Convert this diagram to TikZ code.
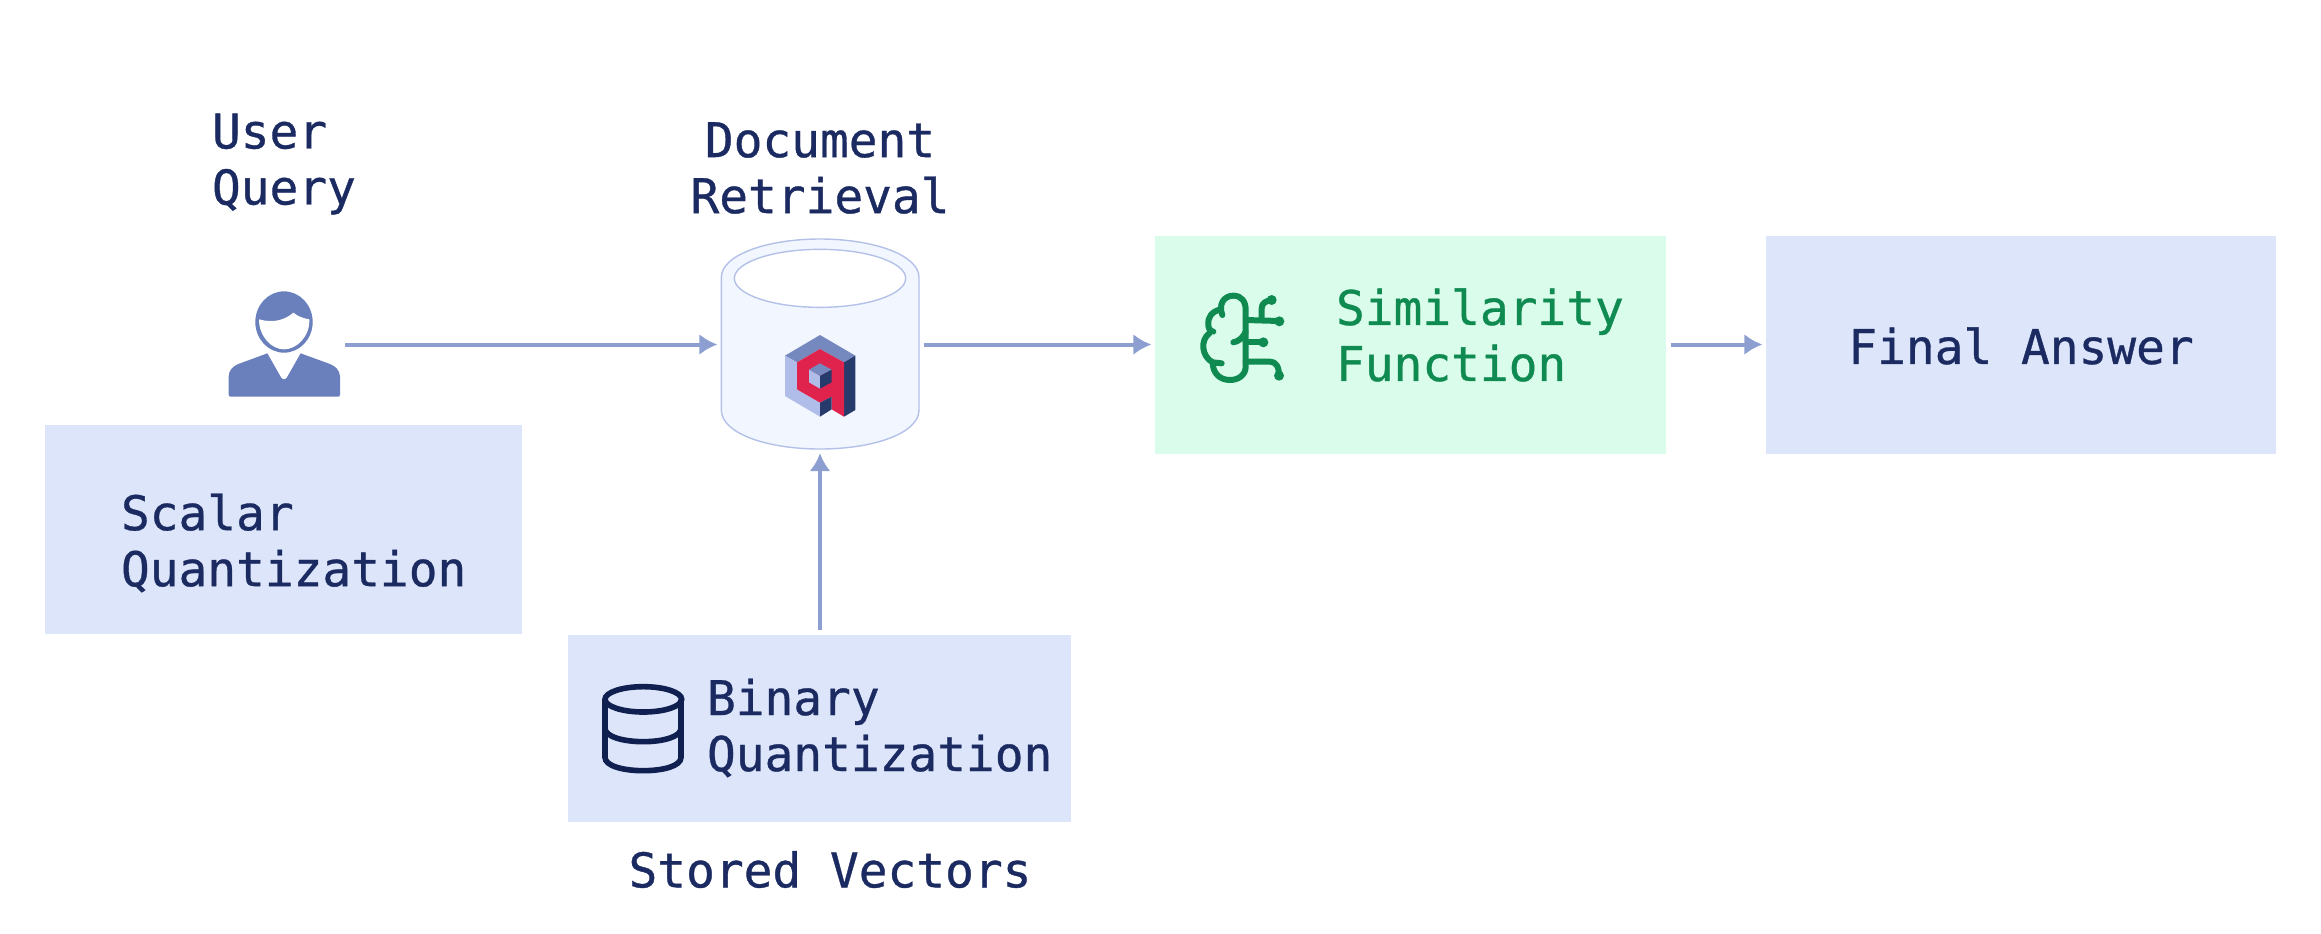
\documentclass[tikz,border=0pt]{standalone}
\usepackage{xcolor}
\usepackage{fontspec}
\setmonofont[FakeBold=0.7]{DejaVu Sans Mono}
\usetikzlibrary{arrows.meta}
\definecolor{navytxt}{HTML}{1B2B62}
\definecolor{boxblue}{HTML}{DCE5F9}
\definecolor{boxgreen}{HTML}{DAFCEB}
\definecolor{greentxt}{HTML}{0F8A50}
\definecolor{arrowblue}{HTML}{8C9FD0}
\definecolor{usercol}{HTML}{6A80BD}
\definecolor{cylfill}{HTML}{F1F6FF}
\definecolor{cylline}{HTML}{B3C1E8}
\definecolor{logotop}{HTML}{7589BE}
\definecolor{logoleft}{HTML}{B0BDE8}
\definecolor{logodark}{HTML}{263A6B}
\definecolor{logored}{HTML}{E0234D}
\definecolor{dbcol}{HTML}{0F1F50}
\begin{document}
\begin{tikzpicture}[x=0.5pt,y=-0.5pt]
        \tikzset{fleche/.style={-{Latex[length=9pt,width=10.5pt]},draw=arrowblue,line width=2pt,shorten <=2.5pt,shorten >=1.8pt}}
        \tikzset{qbox/.style={fill=boxblue,inner sep=0pt,outer sep=0pt}}
        \tikzset{greenbox/.style={fill=boxgreen,inner sep=0pt,outer sep=0pt}}
        \tikzset{blank/.style={inner sep=0pt,outer sep=0pt}}
        \tikzset{lab/.style={font=\ttfamily\fontsize{23.9}{28}\selectfont,text=navytxt,inner sep=0pt,outer sep=0pt,align=left}}
        \useasboundingbox (0,0) rectangle (2321,933);
        % boxes
        \node[qbox,minimum width=238.5pt,minimum height=104.5pt] (scalar) at (283.5,529.5) {};
        \node[qbox,minimum width=251.5pt,minimum height=93.5pt] (binary) at (819.5,728.5) {};
        \node[greenbox,minimum width=255.5pt,minimum height=109pt] (simil) at (1410.5,344.5) {};
        \node[qbox,minimum width=255pt,minimum height=109pt] (final) at (2021,344.5) {};
        \node[blank,minimum width=55.5pt,minimum height=52pt] (usericon) at (284.5,344.5) {};
        \node[blank,minimum width=99pt,minimum height=105pt] (docstore) at (820,344.5) {};
        % labels
        \node[lab,anchor=west] (userlab) at (212,164) {User\\Query};
        \node[lab,anchor=center,align=center] (doclab) at (820,168) {Document\\Retrieval};
        \node[lab,anchor=west] (scalarlab) at (121,543) {Scalar\\Quantization};
        \node[lab,anchor=west] (binarylab) at (707,728) {Binary\\Quantization};
        \node[lab,anchor=west,text=greentxt] (similab) at (1336,335) {Similarity\\Function};
        \node[lab,anchor=center] (finallab) at (2021,346) {Final Answer};
        \node[lab,anchor=center] (storedlab) at (830,869.5) {Stored Vectors};
        % user icon
        \begin{scope}[shift={(180,260)},scale=1/3]
        \fill[usercol] (312,186) ellipse [x radius=86,y radius=92];
        \fill[white] (237,178) .. controls (280,190) and (315,180) .. (340,158) .. controls (355,170) and (370,175) .. (388,178) .. controls (390,230) and (350,268) .. (312,268) .. controls (275,268) and (237,230) .. (237,178) -- cycle;
        \fill[usercol] (146,404) -- (146,350) .. controls (146,330) and (160,318) .. (175,312) -- (262,280) -- (303,352) .. controls (308,360) and (316,360) .. (321,352) -- (362,280) -- (450,312) .. controls (465,318) and (480,330) .. (480,350) -- (480,404) .. controls (480,408) and (478,410) .. (474,410) -- (152,410) .. controls (148,410) and (146,408) .. (146,404) -- cycle;
        \end{scope}
        % cylinder and logo
        \begin{scope}[shift={(700,220)},scale=1/3]
        \draw[cylline,fill=cylfill,line width=0.7pt] (64,172) .. controls (64,105) and (200,57) .. (360,57) .. controls (520,57) and (657,105) .. (657,172) -- (657,570) .. controls (657,640) and (520,687) .. (360,687) .. controls (200,687) and (64,640) .. (64,570) -- cycle;
        \draw[cylline,fill=white,line width=0.7pt] (360,175) ellipse [x radius=257,y radius=87];
        \fill[logotop] (255,407) -- (360,345) -- (466,407) -- (432,427) -- (360,387) -- (291,427) -- cycle;
        \fill[logoleft] (255,407) -- (291,427) -- (291,508) -- (360,548) -- (360,590) -- (255,528) -- cycle;
        \fill[logodark] (466,407) -- (466,570) -- (432,590) -- (432,427) -- cycle;
        \fill[logored] (291,427) -- (360,387) -- (432,427) -- (432,590) -- (395,568) -- (395,530) -- (360,548) -- (291,508) -- cycle;
        \fill[logodark] (360,548) -- (395,530) -- (395,568) -- (360,590) -- cycle;
        \fill[logotop] (327,449) -- (360,430) -- (395,449) -- (360,468) -- cycle;
        \fill[logoleft] (327,449) -- (360,468) -- (360,506) -- (327,487) -- cycle;
        \fill[logodark] (360,468) -- (395,449) -- (395,487) -- (360,506) -- cycle;
        \end{scope}
        % brain icon
        \begin{scope}[shift={(1180,260)},scale=1/3,draw=greentxt,line width=3pt,line cap=round,line join=round]
        \draw (127,165) .. controls (115,135) and (130,107) .. (160,107) .. controls (185,107) and (197,125) .. (197,150) -- (197,320) .. controls (197,345) and (175,360) .. (150,360) .. controls (120,360) and (98,340) .. (98,307);
        \draw (122,148) .. controls (95,155) and (83,170) .. (85,195) .. controls (85,205) and (90,213) .. (100,215);
        \draw (88,220) .. controls (60,240) and (65,290) .. (98,307) -- (125,310);
        \draw (160,247) .. controls (175,245) and (190,232) .. (197,215);
        \draw (197,180) -- (298,183);
        \draw (245,180) -- (245,145) .. controls (245,130) and (258,122) .. (275,120);
        \draw (197,247) -- (250,247);
        \draw (197,305) -- (270,305) .. controls (288,305) and (297,320) .. (297,347);
        \fill[greentxt] (275,120) circle [radius=15];
        \fill[greentxt] (298,184) circle [radius=15];
        \fill[greentxt] (250,247) circle [radius=15];
        \fill[greentxt] (297,347) circle [radius=15];
        \end{scope}
        % stored vectors icon
        \begin{scope}[shift={(580,660)},scale=1/3,draw=dbcol,line width=2.8pt]
        \draw (190,118) ellipse [x radius=115,y radius=38];
        \draw (75,118) -- (75,292) .. controls (75,318) and (130,332) .. (190,332) .. controls (250,332) and (303,318) .. (303,292) -- (303,118);
        \draw (75,205) .. controls (75,230) and (130,245) .. (190,245) .. controls (250,245) and (303,230) .. (303,205);
        \end{scope}
        % connectors
        \draw[fleche] (usericon) -- (docstore);
        \draw[fleche] (docstore) -- (simil);
        \draw[fleche] (simil) -- (final);
        \draw[fleche] (binary.north -| docstore) -- (docstore);
        \end{tikzpicture}
\end{document}
